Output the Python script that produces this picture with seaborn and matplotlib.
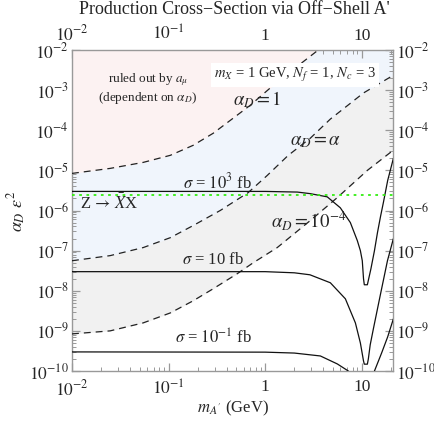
import numpy as np
import pandas as pd
import matplotlib
matplotlib.use("Agg")
import matplotlib.pyplot as plt
import seaborn as sns

# dashed alpha_D contours (mass in GeV, alpha_D eps^2)
m_aD1 = [0.01, 0.0248, 0.0545, 0.104, 0.179, 0.289, 0.466, 0.70, 1.33, 3.54, 21.0]
y_aD1 = [8.4e-6, 1.12e-5, 1.58e-5, 2.37e-5, 4.2e-5, 8.4e-5, 2.0e-4, 4.2e-4, 1.6e-3, 1.0e-2, 0.35]

m_aDa = [0.01, 0.0248, 0.0545, 0.104, 0.179, 0.342, 0.667, 1.05, 1.73, 2.92, 4.72, 10.4, 21.2]
y_aDa = [5.6e-8, 7.5e-8, 1.19e-7, 2.1e-7, 4.2e-7, 1.0e-6, 2.8e-6, 7.5e-6, 2.37e-5, 6.3e-5, 1.9e-4, 8.5e-4, 2.35e-3]

m_aD4 = [0.01, 0.0248, 0.0545, 0.104, 0.179, 0.289, 0.513, 0.752, 1.33, 2.92, 5.57, 11.4, 21.2]
y_aD4 = [8.4e-10, 1.0e-9, 1.58e-9, 2.8e-9, 5.6e-9, 1.12e-8, 2.66e-8, 5.0e-8, 1.19e-7, 5.6e-7, 2.1e-6, 1.0e-5, 3.2e-5]

# solid cross-section contours
m_s1000 = [0.01, 1.0, 2.15, 2.92, 4.38, 5.98, 7.6, 8.97, 9.65, 10.1, 10.4, 10.6, 11.4,
           12.4, 13.5, 14.5, 15.6, 16.7, 18.5, 21.2]
y_s1000 = [2.99e-6, 2.99e-6, 2.88e-6, 2.63e-6, 2.19e-6, 1.17e-6, 5.0e-7, 1.78e-7, 1.0e-7,
           5.6e-8, 2.0e-8, 1.41e-8, 1.41e-8, 3.5e-8, 1.0e-7, 2.8e-7, 7.1e-7, 1.58e-6, 5.6e-6, 2.0e-5]

m_s10 = [0.01, 1.0, 2.0, 2.9, 4.72, 6.75, 8.57, 9.65, 10.4, 10.6, 11.4, 11.67, 12.2, 13.2,
         15.6, 18.4, 21.2]
y_s10 = [2.99e-8, 2.99e-8, 2.8e-8, 2.5e-8, 1.58e-8, 6.3e-9, 1.58e-9, 5.0e-10, 1.78e-10,
         1.48e-10, 1.48e-10, 2.0e-10, 4.5e-10, 1.17e-9, 8.3e-9, 5.6e-8, 2.0e-7]

m_s01 = [0.01, 1.0, 2.0, 3.72, 5.57, 7.24, 8.5, 13.0, 13.5, 16.0, 18.5, 21.2]
y_s01 = [2.99e-10, 2.95e-10, 2.8e-10, 2.37e-10, 1.5e-10, 1.0e-10, 2.5e-11, 6.3e-11,
         1.0e-10, 2.8e-10, 7.1e-10, 2.0e-9]

# Z -> XX bound (flat)
m_z = [0.01, 21.2]
y_z = [2.45e-6, 2.45e-6]

x_ticks = [0.01, 0.1, 1, 10]
x_labels = ["$10^{-2}$", "$10^{-1}$", "1", "10"]
y_ticks = [1e-2, 1e-3, 1e-4, 1e-5, 1e-6, 1e-7, 1e-8, 1e-9, 1e-10]
y_labels = ["$10^{-%d}$" % k for k in range(2, 11)]

sns.set_theme(style="ticks")
plt.rcParams["font.family"] = ["Liberation Serif", "DejaVu Serif"]
plt.rcParams["mathtext.fontset"] = "stix"

fig = plt.figure(figsize=(4.35, 4.25), dpi=100)
W, H = 435, 425
L, R, T, B = 72, 393, 50, 371
ax = fig.add_axes([L / W, 1 - B / H, (R - L) / W, (B - T) / H])
ax.set_xscale("log")
ax.set_yscale("log")

# shaded regions (layered)
ax.fill_between(m_aD4, y_aD4, 1.0, color="#f1f1f1", lw=0, zorder=0)
ax.fill_between(m_aDa, y_aDa, 1.0, color="#f0f5fc", lw=0, zorder=0.5)
ax.fill_between(m_aD1, y_aD1, 1.0, color="#fcf2f2", lw=0, zorder=0.8)

dash = (0, (5.5, 4))
for mm, yy in [(m_aD1, y_aD1), (m_aDa, y_aDa), (m_aD4, y_aD4)]:
    sns.lineplot(x=mm, y=yy, ax=ax, color="#222222", lw=0.9, linestyle=dash, zorder=3)

for mm, yy in [(m_s1000, y_s1000), (m_s10, y_s10), (m_s01, y_s01)]:
    sns.lineplot(x=mm, y=yy, ax=ax, color="#111111", lw=0.9, sort=False, zorder=3)

sns.lineplot(x=m_z, y=y_z, ax=ax, color="#33ee11", lw=1.3, linestyle=(0, (1.5, 2.5)), zorder=4)

ax.set_xlim(0.01, 21.0)
ax.set_ylim(1e-10, 1e-2)

ax.set_xticks(x_ticks)
ax.set_xticklabels(x_labels)
ax.set_yticks(y_ticks)
ax.set_yticklabels(y_labels)
ax.tick_params(which="both", direction="in", top=True, right=True, labeltop=False,
               labelright=True, color="#999999", labelsize=12.5)
ax.tick_params(which="major", length=6, width=0.9, pad=2)
ax.tick_params(axis="x", which="major", pad=6)
ax.tick_params(which="minor", length=3, width=0.7)
for sp in ax.spines.values():
    sp.set_color("#999999")
    sp.set_linewidth(1.0)

# top tick labels, placed from the axis transform
for t, lab in zip(x_ticks, x_labels):
    xd, _ = ax.transData.transform((t, 1e-2))
    xf, _ = fig.transFigure.inverted().transform((xd, 0))
    fig.text(xf, 1 - 40 / H, lab, ha="center", va="baseline", fontsize=12.5)


def put(x, y, s, size, **kw):
    ax.text((x - L) / (R - L), (B - y) / (B - T), s, transform=ax.transAxes,
            ha="center", va="center", fontsize=size, zorder=5, **kw)


put(148, 80, r"ruled out by $a_\mu$", 9.5)
put(148, 98, r"(dependent on $\alpha_D$)", 9.5)
put(295, 75, r"$m_X$ = 1 GeV, $N_f$ = 1, $N_c$ = 3", 10.5,
    bbox=dict(boxstyle="square,pad=0.2", fc="white", ec="none"))
put(257, 100, r"$\alpha_D = 1$", 13.5)
put(316, 141, r"$\alpha_D = \alpha$", 13.5)
put(309, 220, r"$\alpha_D = 10^{-4}$", 13.5)
put(217, 182, r"$\sigma$ = $10^3$ fb", 12)
put(213, 260, r"$\sigma$ = 10 fb", 12)
put(213, 338, r"$\sigma$ = $10^{-1}$ fb", 12)
put(109, 203, r"Z$\,\rightarrow\,\bar{X}$X", 12)

fig.text(234 / W, 1 - 9 / H, "Production Cross\u2212Section via Off\u2212Shell A'",
         ha="center", va="center", fontsize=13)
fig.text(233 / W, 1 - 408 / H, r"$m_{A'}$ (GeV)", ha="center", va="center", fontsize=12)
fig.text(17 / W, 1 - 211 / H, r"$\alpha_D\ \epsilon^2$", ha="center", va="center",
         fontsize=13, rotation=90)

fig.savefig("out.png", dpi=100)
